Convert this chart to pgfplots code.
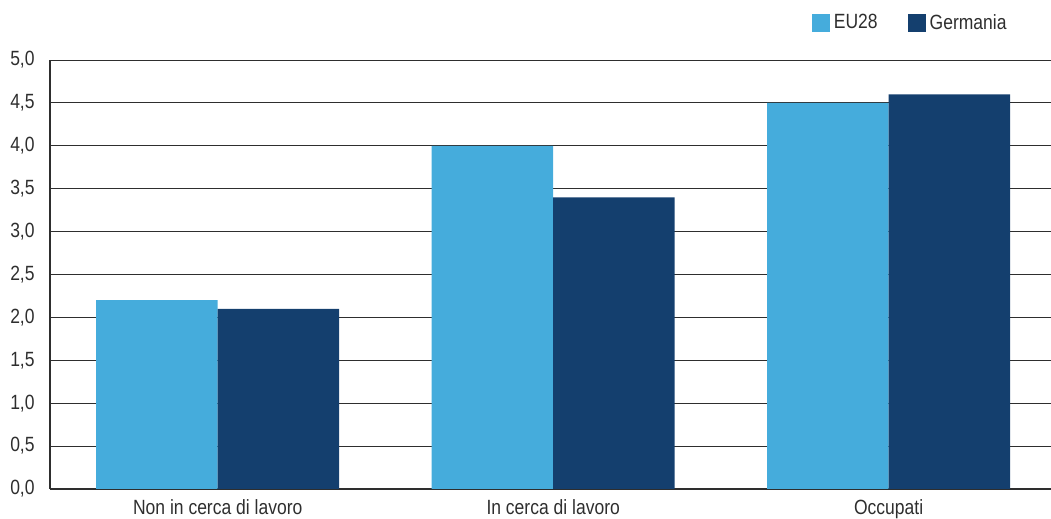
\documentclass[border=0pt]{standalone}
\usepackage{pgfplots}
\pgfplotsset{compat=1.18}
\usepackage{fontspec}
\setmainfont[FakeStretch=0.85]{Liberation Sans}
\definecolor{eu}{HTML}{45ACDC}
\definecolor{de}{HTML}{143F6E}
\definecolor{txt}{HTML}{2E2E2E}
\begin{document}
\begin{tikzpicture}
\useasboundingbox (-25pt,-15pt) rectangle (500.5pt,244.5pt);
\begin{axis}[
  at={(0,0)}, anchor=south west,
  scale only axis, width=500.5pt, height=214.5pt,
  xmin=-0.5, xmax=2.484, ymin=0, ymax=5,
  ybar=0pt, bar width=60.75pt,
  xtick={0,1,2},
  xticklabels={Non in cerca di lavoro, In cerca di lavoro, Occupati},
  ytick={0,0.5,...,5.01},
  major tick length=0pt,
  axis x line*=bottom, axis y line*=left,
  axis line style={draw=txt, line width=0.6pt, -},
  ymajorgrids, major grid style={draw=txt, line width=0.5pt},
  tick label style={font=\fontsize{10.3}{12}\selectfont, text=txt},
  /pgf/number format/.cd, assume math mode=true, use comma, fixed, fixed zerofill, precision=1,
  /pgfplots/.cd,
  yticklabel style={inner sep=0pt, anchor=east, xshift=-7.5pt},
  xticklabel style={inner sep=0pt, anchor=north, yshift=-5pt},
  legend style={draw=none, fill=none, font=\fontsize{10.3}{12}\selectfont, text=txt,
    at={(0.966,1.086)}, anchor=east, legend columns=2,
    /tikz/every even column/.append style={column sep=13pt}},
  legend image code/.code={\fill[#1] (-1.5pt,-4.5pt) rectangle (7.5pt,4.5pt);},
  clip=false,
]
\addplot[fill=eu, draw=none] coordinates {(0,2.2) (1,4.0) (2,4.5)};
\addplot[fill=de, draw=none] coordinates {(0,2.1) (1,3.4) (2,4.6)};
\legend{EU28, Germania}
\end{axis}
\end{tikzpicture}
\end{document}
